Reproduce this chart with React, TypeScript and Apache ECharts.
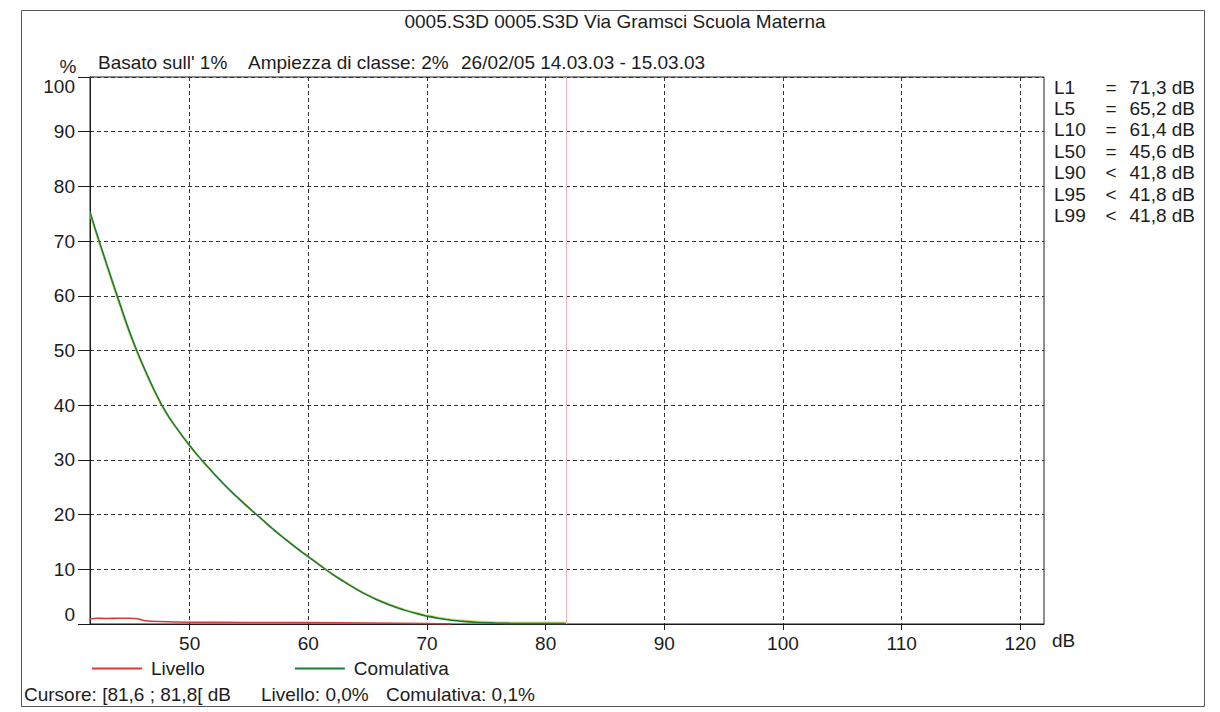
import React, { useEffect, useRef } from "react";
import * as echarts from "echarts";

const FONT = 'Arial, "Liberation Sans", Helvetica, sans-serif';
const FS = 19;
const INK = "#1c1c1c";

// Header and footer texts
const titleText = "0005.S3D 0005.S3D Via Gramsci Scuola Materna";
const subtitleParts = ["Basato sull' 1%", "Ampiezza di classe: 2%", "26/02/05 14.03.03 - 15.03.03"];
const cursorParts = ["Cursore: [81,6 ; 81,8[ dB", "Livello: 0,0%", "Comulativa: 0,1%"];

// Axes
const xMin = 41.6;
const xMax = 122;
const xTicks = [50, 60, 70, 80, 90, 100, 110, 120];
const yMin = 0;
const yMax = 100;
const yStep = 10;

// Cursor position (class [81,6 ; 81,8[ dB)
const cursorDb = 81.7;

// Cumulative distribution (% of time above level)
const cumDb = [41.6, 42, 43, 44, 45, 46, 47, 48, 49, 50, 51, 52, 53, 54, 55, 56, 57, 58, 59, 60, 61, 62, 63, 64, 65, 66, 67, 68, 69, 70, 71, 72, 73, 74, 75, 76, 77, 78, 80, 81.7];
const cumPct = [75.3, 72.5, 65.8, 59.3, 53.0, 47.6, 42.8, 38.7, 35.5, 32.6, 30.0, 27.6, 25.3, 23.2, 21.2, 19.3, 17.4, 15.6, 13.9, 12.3, 10.7, 9.15, 7.75, 6.45, 5.25, 4.25, 3.37, 2.61, 1.97, 1.45, 1.03, 0.72, 0.5, 0.34, 0.24, 0.17, 0.13, 0.11, 0.1, 0.1];

// Level distribution (% per class)
const levDb = [41.6, 42.2, 43.0, 44.0, 45.0, 45.6, 46.3, 47.5, 50.0, 55.0, 60.0, 65.0, 70.0, 72.0];
const levPct = [0.9, 1.05, 1.0, 1.05, 1.05, 0.95, 0.6, 0.45, 0.32, 0.28, 0.25, 0.18, 0.08, 0.02];

// Percentile levels
const statNames = ["L1", "L5", "L10", "L50", "L90", "L95", "L99"];
const statSigns = ["=", "=", "=", "=", "<", "<", "<"];
const statValues = [71.3, 65.2, 61.4, 45.6, 41.8, 41.8, 41.8];

const seriesNames = ["Livello", "Comulativa"];
const seriesColors = ["#d8393a", "#1f7d3a"];

const pairs = (xs: number[], ys: number[]) => xs.map((x, i) => [x, ys[i]]);
const fmt = (v: number) => v.toFixed(1).replace(".", ",") + " dB";

function buildOption(): echarts.EChartsOption {
  const txt = (text: string, x: number, y: number, align: string = "left") => ({
    type: "text",
    x,
    y,
    style: {
      text,
      fill: INK,
      font: `${FS}px ${FONT}`,
      align,
      verticalAlign: "middle",
    },
  });

  const graphics: any[] = [
    {
      type: "rect",
      shape: { x: 21.5, y: 10.5, width: 1183, height: 696 },
      style: { fill: "none", stroke: "#555", lineWidth: 1 },
      silent: true,
    },
    txt(titleText, 615, 21, "center"),
    txt("%", 68, 66, "center"),
    txt(subtitleParts[0], 98, 62),
    txt(subtitleParts[1], 248, 62),
    txt(subtitleParts[2], 461, 62),
    txt("dB", 1052, 640),
    txt(cursorParts[0], 24, 694),
    txt(cursorParts[1], 261, 694),
    txt(cursorParts[2], 386, 694),
  ];

  statNames.forEach((n, i) => {
    const y = 87 + i * 21.4;
    graphics.push(txt(n, 1054, y));
    graphics.push(txt(statSigns[i], 1111, y, "center"));
    graphics.push(txt(fmt(statValues[i]), 1195, y, "right"));
  });

  const dashed = { show: true, lineStyle: { type: [4, 3] as any, color: "#333", width: 1 } };

  return {
    animation: false,
    backgroundColor: "#ffffff",
    textStyle: { fontFamily: FONT },
    grid: {
      left: 90,
      right: 176,
      top: 77,
      bottom: 88,
      show: true,
      borderColor: INK,
      borderWidth: 1,
      backgroundColor: "transparent",
    },
    xAxis: {
      type: "value",
      min: xMin,
      max: xMax,
      axisLine: { show: true, onZero: false, lineStyle: { color: INK, width: 1 } },
      axisTick: { show: true, customValues: xTicks, length: 6, lineStyle: { color: INK } },
      axisLabel: {
        customValues: xTicks,
        fontSize: FS,
        color: INK,
        margin: 10,
        fontFamily: FONT,
      },
      splitLine: dashed,
    } as any,
    yAxis: {
      type: "value",
      min: yMin,
      max: yMax,
      interval: yStep,
      axisLine: { show: true, lineStyle: { color: INK, width: 1 } },
      axisTick: { show: true, length: 12, lineStyle: { color: INK } },
      axisLabel: {
        fontSize: FS,
        color: INK,
        margin: 15,
        fontFamily: FONT,
        verticalAlignMaxLabel: "top",
        verticalAlignMinLabel: "bottom",
      },
      splitLine: dashed,
    } as any,
    legend: {
      data: seriesNames,
      left: 92,
      top: 659,
      padding: 0,
      icon: "rect",
      itemWidth: 50,
      itemHeight: 2,
      itemGap: 90,
      textStyle: { fontSize: FS, color: INK, fontFamily: FONT, padding: [0, 0, 0, 4] },
    },
    series: [
      {
        name: seriesNames[0],
        type: "line",
        data: pairs(levDb, levPct),
        symbol: "none",
        smooth: 0.3,
        color: seriesColors[0],
        lineStyle: { color: seriesColors[0], width: 1.6 },
        z: 3,
        markLine: {
          silent: true,
          symbol: "none",
          label: { show: false },
          lineStyle: { color: "#f3b3b3", width: 1, type: "solid" },
          data: [{ xAxis: cursorDb }],
        },
      },
      {
        name: seriesNames[1],
        type: "line",
        data: pairs(cumDb, cumPct),
        symbol: "none",
        smooth: 0.5,
        color: seriesColors[1],
        lineStyle: {
          color: seriesColors[1],
          width: 1.8,
          shadowColor: "rgba(215,225,80,0.8)",
          shadowBlur: 0,
          shadowOffsetX: -1,
          shadowOffsetY: -1,
        },
        z: 4,
      },
    ],
    graphic: graphics,
  } as any;
}

export default function App() {
  const ref = useRef<HTMLDivElement>(null);

  useEffect(() => {
    if (!ref.current) return;
    const chart = echarts.init(ref.current, undefined, { renderer: "svg" });
    chart.setOption(buildOption());
    return () => chart.dispose();
  }, []);

  return (
    <div
      ref={ref}
      style={{ position: "fixed", left: 0, top: 0, width: 1220, height: 712, background: "#fff" }}
    />
  );
}
